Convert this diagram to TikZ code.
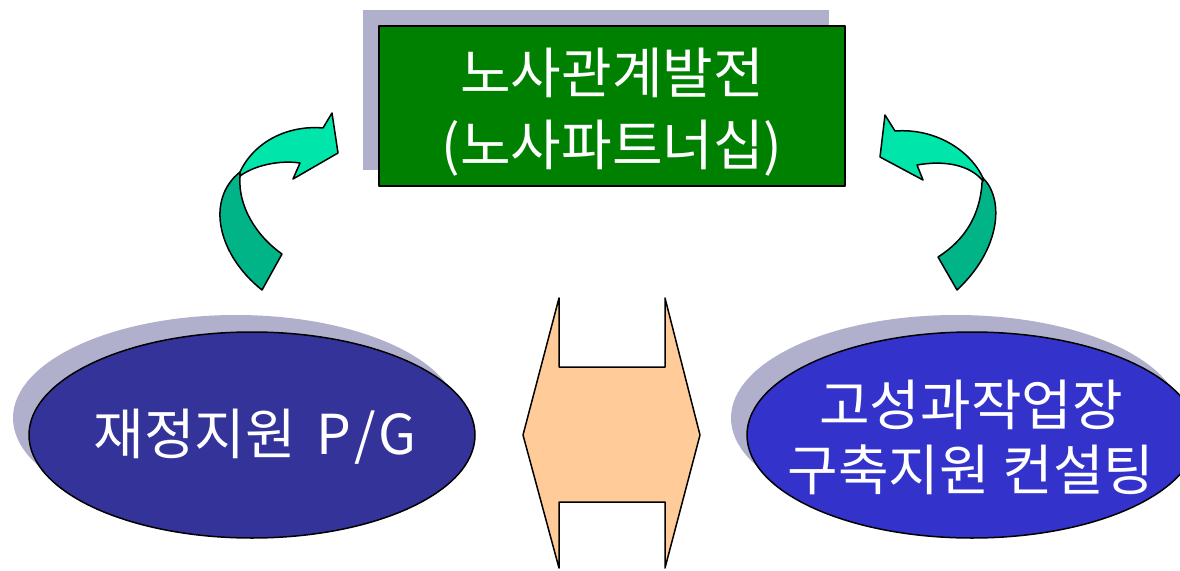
\documentclass[tikz,border=0pt]{standalone}
\usepackage{fontspec}
\newfontfamily\kr{Noto Sans CJK KR}
\usetikzlibrary{shapes.geometric}
\definecolor{boxgreen}{RGB}{0,128,0}
\definecolor{shadowgray}{RGB}{176,176,204}
\definecolor{ovaldark}{RGB}{51,51,153}
\definecolor{ovalblue}{RGB}{51,51,204}
\definecolor{arrowlight}{RGB}{0,230,170}
\definecolor{arrowdark}{RGB}{0,180,136}
\definecolor{peach}{RGB}{255,204,153}
\tikzset{
  outline/.style={draw=black, line width=1.5pt, line join=round},
  shadowfill/.style={fill=shadowgray, draw=none},
  whitetext/.style={text=white, font=\kr\fontsize{55}{65}\selectfont, align=center, inner sep=0pt},
  oval/.style={ellipse, outline, minimum width=446pt, minimum height=206pt, inner sep=0pt},
}
\begin{document}
\begin{tikzpicture}[x=1pt,y=-1pt]
\useasboundingbox (0,0) rectangle (1180,570);
\clip (0,0) rectangle (1180,570);
% top box shadow and box
\fill[shadowfill] (363,10) rectangle (829,170);
\node[outline, fill=boxgreen, minimum width=466pt, minimum height=160pt, inner sep=0pt] (box) at (612,106) {};
\node[whitetext] (t1) at (612,73) {노사관계발전};
\node[whitetext] (t2) at (612,148) {(노사파트너십)};
% left oval
\fill[shadowfill] (236,418) ellipse [x radius=223, y radius=103];
\node[oval, fill=ovaldark] (left) at (252,435) {};
\node[whitetext] (lt) at (255,437) {재정지원\hspace{0.15em} P\hspace{0.05em}/\hspace{0.05em}G};
% right oval
\fill[shadowfill] (956,418) ellipse [x radius=225, y radius=103];
\node[oval, fill=ovalblue, minimum width=450pt] (right) at (972,435) {};
\node[whitetext] (rt) at (971,437) {고성과작업장\\구축지원 컨설팅};
% middle double arrow
\draw[outline, fill=peach] (559,298) -- (559,367) -- (665,367) -- (665,298) -- (700,435)
  -- (665,568) -- (665,502) -- (559,502) -- (559,568) -- (523,435) -- cycle;
% left curved arrow
\draw[outline, fill=arrowdark] (262,290) .. controls (218,255) and (205,200) .. (240,172)
  -- (240,177) .. controls (238,205) and (255,235) .. (282,254) -- cycle;
\draw[outline, fill=arrowlight] (240,172) .. controls (255,140) and (290,125) .. (323,128)
  -- (332,113) -- (338,153) -- (293,179) -- (300,163)
  .. controls (280,160) and (255,165) .. (240,176) -- cycle;
% right curved arrow
\draw[outline, fill=arrowdark] (983,178) .. controls (1005,200) and (1000,250) .. (957,290)
  -- (938,257) .. controls (965,240) and (980,215) .. (982,183) -- cycle;
\draw[outline, fill=arrowlight] (880,157) -- (885,115) -- (895,131)
  .. controls (935,128) and (970,150) .. (983,178)
  -- (983,181) .. controls (970,165) and (945,160) .. (917,165) -- (923,180) -- cycle;
\end{tikzpicture}
\end{document}
